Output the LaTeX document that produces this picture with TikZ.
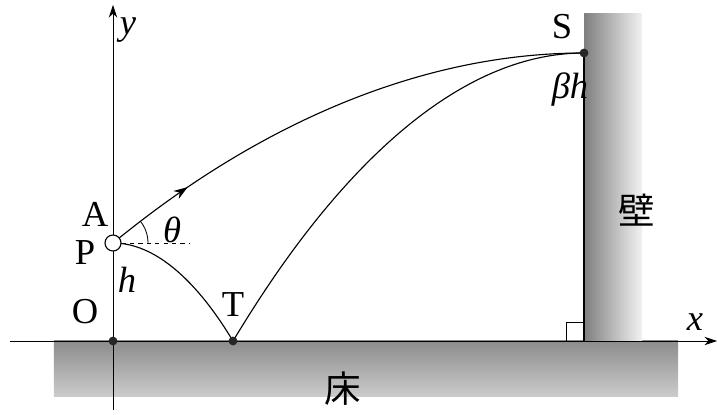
\documentclass[tikz,border=0pt]{standalone}
\usepackage{fontspec}
\setmainfont{Liberation Serif}
\newfontfamily\jpfont{Noto Sans CJK JP}
\usetikzlibrary{positioning,calc,arrows.meta,decorations.markings}

\begin{document}
\begin{tikzpicture}[x=0.25mm,y=0.25mm,
            every node/.style={font=\rmfamily\fontsize{26}{30}\selectfont,inner sep=0pt},
            axis/.style={line width=0.6pt,-{Stealth[length=9pt,width=6pt]}},
            orbit/.style={line width=0.8pt},
            dot/.style={circle,fill=black!85,minimum size=2.2mm},
            ball/.style={circle,draw,fill=white,line width=0.8pt,minimum size=4mm},
            floorbox/.style={top color=black!45,bottom color=black!20},
            wallbox/.style={left color=black!50,right color=black!5},
            flight/.style={postaction={decorate},decoration={markings,
                mark=at position 0.18 with {\arrow{Stealth[length=3.5mm,width=2.4mm]}}}}
        ]
            \useasboundingbox (-113,-73) rectangle (604,341);
            \coordinate (O) at (0,0);
            \coordinate (P) at (0,98);
            \coordinate (T) at (120,0);
            \coordinate (S) at (471,288);
            \coordinate (xend) at (604,0);
            \coordinate (xbeg) at (-103,0);
            \coordinate (yend) at (0,336);
            \coordinate (ybeg) at (0,-69);
            \coordinate (dashend) at (77,98);
            \shade[floorbox] (-59,0) rectangle (565,-56);
            \shade[wallbox] (471,0) rectangle (529,327);
            \draw[line width=0.8pt] (471,0) -- (471,288);
            \draw[line width=0.6pt] (453,0) rectangle (471,19);
            \draw[axis] (xbeg) -- (xend);
            \draw[axis] (ybeg) -- (yend);
            \draw[dashed,line width=0.6pt] (P) -- (dashend);
            \draw[line width=0.6pt] ($(P)+(35,0)$) arc[start angle=0,end angle=38.9,radius=35];
            \draw[orbit,flight] (P) parabola[bend at end] (S);
            \draw[orbit] (P) parabola (T);
            \draw[orbit] (T) parabola[bend at end] (S);
            \node[dot] (dO) at (O) {};
            \node[dot] (dT) at (T) {};
            \node[dot] (dS) at (S) {};
            \node[ball] (dP) at (P) {};
            \node (lO) at (-28,29) {O};
            \node (lA) at (-18,127) {A};
            \node (lP) at (-28,88) {P};
            \node (lh) at (14,61) {\textit{h}};
            \node (lth) at (59,111) {\textit{θ}};
            \node (lT) at (120,36) {T};
            \node (lS) at (449,314) {S};
            \node (lbh) at (457,251) {\textit{βh}};
            \node (lx) at (582,19) {\textit{x}};
            \node (ly) at (15,311) {\textit{y}};
            \node (lwall) at (524,131) {\jpfont 壁};
            \node (lfloor) at (230,-48) {\jpfont 床};
        \end{tikzpicture}
\end{document}
